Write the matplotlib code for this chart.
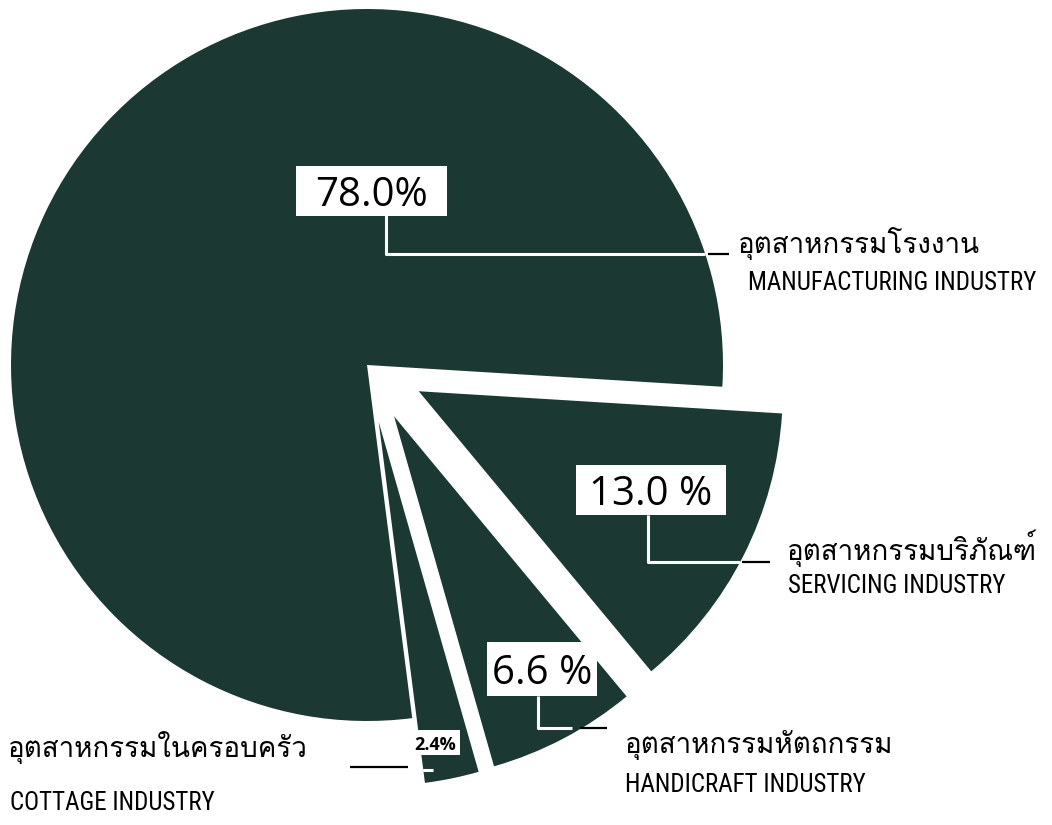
import matplotlib
matplotlib.use("Agg")
import matplotlib.pyplot as plt
import matplotlib.patches as patches
from matplotlib import font_manager
from matplotlib.ft2font import FT2Font

# Shares of establishments by type of industry (percent)
industries_th = ["อุตสาหกรรมโรงงาน", "อุตสาหกรรมในครอบครัว",
                 "อุตสาหกรรมหัตถกรรม", "อุตสาหกรรมบริภัณฑ์"]
industries_en = ["MANUFACTURING INDUSTRY", "COTTAGE INDUSTRY",
                 "HANDICRAFT INDUSTRY", "SERVICING INDUSTRY"]
shares = [78.0, 2.4, 6.6, 13.0]
share_labels = ["78.0%", "2.4%", "6.6 %", "13.0 %"]

GREEN = "#1b3932"
W, H = 1052, 825


def find_family(codepoint, fallback):
    for f in font_manager.fontManager.ttflist:
        try:
            cmap = FT2Font(f.fname).get_charmap()
        except Exception:
            continue
        if codepoint in cmap:
            return f.name
    return fallback


thai_font = find_family(0x0E2D, "DejaVu Sans")
names = {f.name for f in font_manager.fontManager.ttflist}
narrow_font = next((n for n in ["Liberation Sans Narrow", "Roboto Condensed",
                                "Open Sans Condensed", "DejaVu Sans"]
                    if n in names), "DejaVu Sans")

fig = plt.figure(figsize=(W / 100, H / 100), dpi=100)
ax = fig.add_axes([0, 0, 1, 1])

# manufacturing stays in place, the three small wedges are pulled out
# (pie offsets explode in data units, here pixels)
explode = [0, 58, 58, 58]
wedges, _ = ax.pie(shares, explode=explode, colors=[GREEN] * 4,
                   startangle=-3.5, radius=356, center=(367, H - 365),
                   wedgeprops=dict(linewidth=0))
for w in wedges[1:]:
    w.set_radius(364)
ax.set_xlim(0, W)
ax.set_ylim(0, H)
ax.set_aspect("equal")
ax.axis("off")


def Y(y):
    return H - y


def line(xs, ys, color, lw):
    ax.plot(xs, [Y(v) for v in ys], color=color, lw=lw,
            solid_capstyle="butt", zorder=2)


def value_box(cx, cy, w, h, text, fs, fw="normal"):
    ax.add_patch(patches.Rectangle((cx - w / 2, Y(cy) - h / 2), w, h,
                                   fc="white", ec="none", zorder=3))
    ax.text(cx, Y(cy), text, ha="center", va="center_baseline", fontsize=fs,
            fontweight=fw, family="Open Sans", color="black", zorder=4)


# leader lines: white inside the wedge, black outside
line([386, 386, 705], [215, 254, 254], "white", 2.2)
line([708, 729], [254, 254], "black", 1.6)
line([648, 648, 740], [515, 562, 562], "white", 2.2)
line([742, 770], [562, 562], "black", 1.6)
line([538, 538, 572], [696, 728, 728], "white", 2.2)
line([580, 607], [728, 728], "black", 1.6)
line([411, 433], [770, 770], "white", 2.2)
line([350, 408], [767, 767], "black", 1.6)

value_box(371.5, 190.5, 151, 50, share_labels[0], 29)
value_box(651, 490, 150, 50, share_labels[3], 29)
value_box(542, 669, 110, 54, share_labels[2], 29)
value_box(435, 742.5, 50, 25, share_labels[1], 13, "bold")

# category names, Thai above English
label_pos = [(738, 243, 748, 283), (8, 748, 10, 803),
             (625, 745, 625, 785), (787, 548, 788, 586)]
for (tx, ty, ex, ey), th, en in zip(label_pos, industries_th, industries_en):
    ax.text(tx, Y(ty), th, ha="left", va="center", fontsize=20,
            family=[thai_font, "DejaVu Sans"], color="black")
    ax.text(ex, Y(ey), en, ha="left", va="center", fontsize=18,
            family=narrow_font, color="black")

fig.savefig("out.png", dpi=100, facecolor="white")
